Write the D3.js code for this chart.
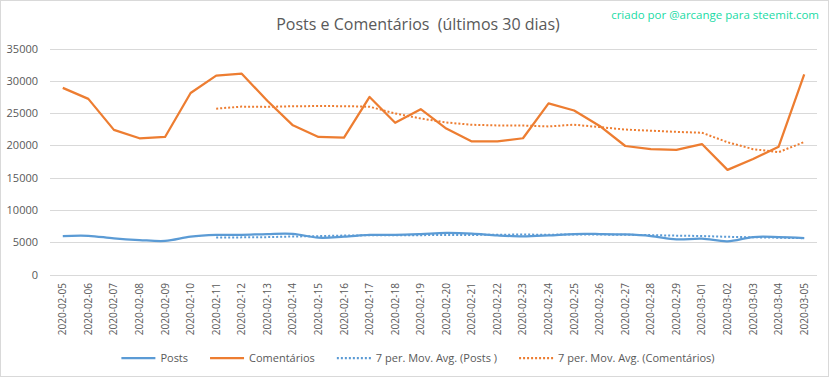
<!DOCTYPE html>
<html lang="pt">
<head>
<meta charset="UTF-8">
<title>Posts e Comentários</title>
<style>
    body { margin: 0; background: #fff; }
    text { font-family: "Open Sans", "Noto Sans", sans-serif; fill: #595959; }
</style>
</head>
<body>
<script src="https://cdn.jsdelivr.net/npm/d3@7"></script>
<script>
// dados
var dias = ["2020-02-05","2020-02-06","2020-02-07","2020-02-08","2020-02-09","2020-02-10",
    "2020-02-11","2020-02-12","2020-02-13","2020-02-14","2020-02-15","2020-02-16","2020-02-17",
    "2020-02-18","2020-02-19","2020-02-20","2020-02-21","2020-02-22","2020-02-23","2020-02-24",
    "2020-02-25","2020-02-26","2020-02-27","2020-02-28","2020-02-29","2020-03-01","2020-03-02",
    "2020-03-03","2020-03-04","2020-03-05"];
var posts = [5960,6000,5600,5340,5190,5850,6120,6150,6270,6300,5700,5850,6120,6150,6270,
    6430,6330,6050,5900,6050,6270,6270,6200,5960,5450,5550,5140,5800,5800,5650];
var comentarios = [28900,27200,22400,21100,21300,28100,30800,31100,26900,23100,21300,21200,27500,
    23500,25600,22600,20600,20600,21100,26500,25400,23000,19900,19400,19300,20200,16200,17900,19800,31000];
// médias móveis de 7 períodos (a partir do 7º dia)
var mediaPosts = [null,null,null,null,null,null,5723,5750,5789,5889,5940,6034,6073,6077,6094,
    6117,6121,6171,6179,6169,6186,6186,6153,6100,6014,5964,5834,5767,5700,5621];
var mediaComentarios = [null,null,null,null,null,null,25686,26000,25957,26057,26086,26071,25986,
    24943,24157,23543,23186,23086,23071,22929,23200,22829,22443,22271,22086,21957,20486,19414,18943,20529];
var yTicks = [0,5000,10000,15000,20000,25000,30000,35000];

var W = 832, H = 378;
var azul = "#5b9bd5", laranja = "#ed7d31";

var svg = d3.select("body").append("svg").attr("width", W).attr("height", H);

// moldura
svg.append("rect").attr("x", 0.5).attr("y", 0.5).attr("width", 828).attr("height", 376)
    .attr("fill", "#fff").attr("stroke", "#d9d9d9");

var x = d3.scaleBand().domain(dias).range([50, 817]);
var y = d3.scaleLinear().domain([0, 35000]).range([274.5, 48.5]);

// grade
svg.append("g").selectAll("line").data(yTicks).enter().append("line")
    .attr("x1", 50).attr("x2", 817)
    .attr("y1", function (d) { return Math.round(y(d)) + 0.5; })
    .attr("y2", function (d) { return Math.round(y(d)) + 0.5; })
    .attr("stroke", "#d9d9d9").attr("stroke-width", 1);

// eixo y
var yAxis = svg.append("g").attr("transform", "translate(38,0)")
    .call(d3.axisLeft(y).tickValues(yTicks).tickSize(0).tickPadding(0).tickFormat(d3.format("d")));
yAxis.select(".domain").remove();
yAxis.selectAll("text").style("font-size", "11px").attr("fill", "#595959");

// eixo x
var xAxis = svg.append("g").attr("transform", "translate(0,275)")
    .call(d3.axisBottom(x).tickSize(0));
xAxis.select(".domain").remove();
xAxis.selectAll("text")
    .style("font-size", "10px").attr("fill", "#595959")
    .attr("text-anchor", "end")
    .attr("transform", "translate(0,8) rotate(-90)")
    .attr("x", 0).attr("y", 0).attr("dy", "0.35em");

function cx(i) { return x(dias[i]) + x.bandwidth() / 2; }

var linhaReta = d3.line()
    .defined(function (d) { return d != null; })
    .x(function (d, i) { return cx(i); })
    .y(function (d) { return y(d); });
var linhaSuave = d3.line()
    .x(function (d, i) { return cx(i); })
    .y(function (d) { return y(d); })
    .curve(d3.curveCatmullRom.alpha(0.5));

svg.append("path").datum(mediaPosts).attr("d", linhaReta)
    .attr("fill", "none").attr("stroke", azul).attr("stroke-width", 2).attr("stroke-dasharray", "2,2");
svg.append("path").datum(mediaComentarios).attr("d", linhaReta)
    .attr("fill", "none").attr("stroke", laranja).attr("stroke-width", 2).attr("stroke-dasharray", "2,2");
svg.append("path").datum(posts).attr("d", linhaSuave)
    .attr("fill", "none").attr("stroke", azul).attr("stroke-width", 2.25).attr("stroke-linejoin", "round");
svg.append("path").datum(comentarios).attr("d", linhaReta)
    .attr("fill", "none").attr("stroke", laranja).attr("stroke-width", 2.25).attr("stroke-linejoin", "round");

// título
svg.append("text").attr("x", 418).attr("y", 30).attr("text-anchor", "middle")
    .style("font-size", "16px").text("Posts e Comentários  (últimos 30 dias)")
    .attr("xml:space", "preserve").style("white-space", "pre");

svg.append("text").attr("x", 819).attr("y", 19).attr("text-anchor", "end")
    .style("font-size", "11.5px").style("fill", "#19dba5")
    .text("criado por @arcange para steemit.com");

// legenda
var legenda = [
    { nome: "Posts", cor: azul, tracejado: null },
    { nome: "Comentários", cor: laranja, tracejado: null },
    { nome: "7 per. Mov. Avg. (Posts )", cor: azul, tracejado: "2,2" },
    { nome: "7 per. Mov. Avg. (Comentários)", cor: laranja, tracejado: "2,2" }
];
var gLeg = svg.append("g");
var pos = 0;
legenda.forEach(function (d) {
    var g = gLeg.append("g").attr("transform", "translate(" + pos + ",0)");
    g.append("line").attr("x1", 0).attr("x2", 34).attr("y1", 0).attr("y2", 0)
        .attr("stroke", d.cor).attr("stroke-width", 2.25)
        .attr("stroke-dasharray", d.tracejado);
    var t = g.append("text").attr("x", 39).attr("y", 0).attr("dy", "0.35em")
        .style("font-size", "11px").text(d.nome)
        .attr("xml:space", "preserve").style("white-space", "pre");
    pos += 39 + t.node().getComputedTextLength() + 22;
});
var total = pos - 22;
gLeg.attr("transform", "translate(" + (418 - total / 2) + ",358)");
</script>
</body>
</html>
